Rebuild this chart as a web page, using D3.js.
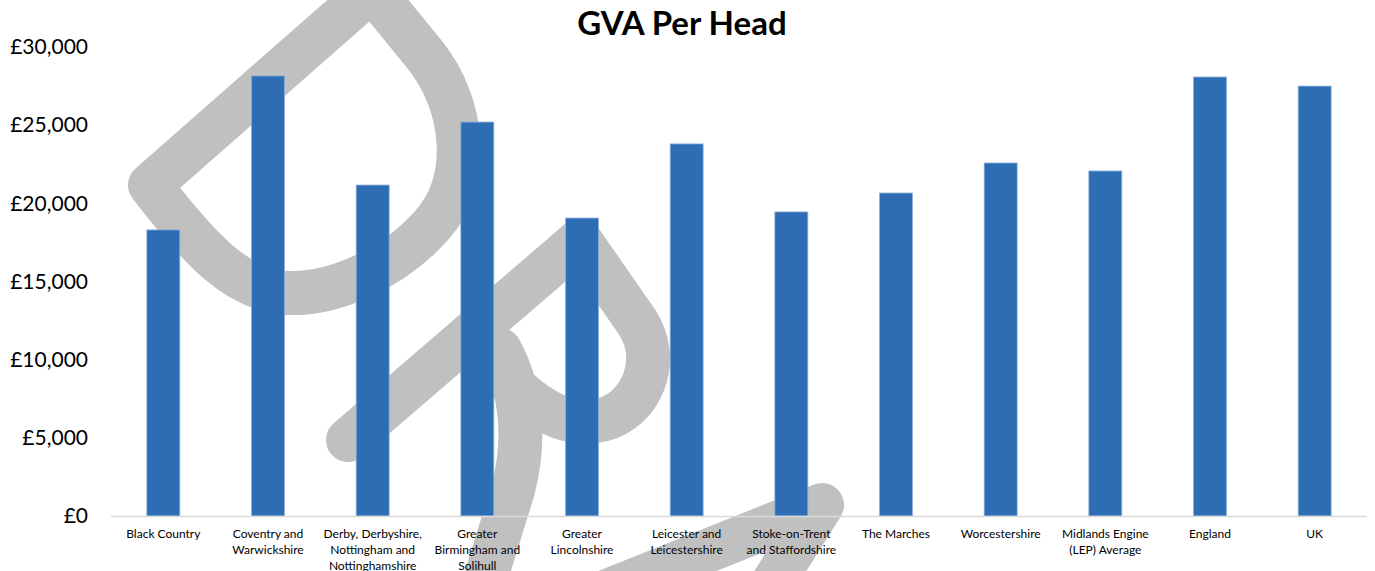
<!DOCTYPE html>
<html lang="en">
  <head>
    <meta charset="utf-8">
    <title>GVA Per Head</title>
    <script src="https://d3js.org/d3.v7.min.js"></script>
    <style>
      body { margin: 0; background: #fff; }
      text { font-family: Lato, "Open Sans", sans-serif; fill: #000; }
    </style>
  </head>
  <body>
    <script>
      var width = 1375,
      height = 571;

      // chart data
      var regions = ["Black Country", "Coventry and Warwickshire", "Derby, Derbyshire, Nottingham and Nottinghamshire",
        "Greater Birmingham and Solihull", "Greater Lincolnshire", "Leicester and Leicestershire",
        "Stoke-on-Trent and Staffordshire", "The Marches", "Worcestershire",
        "Midlands Engine (LEP) Average", "England", "UK"];
      var regionLines = [["Black Country"], ["Coventry and", "Warwickshire"], ["Derby, Derbyshire,", "Nottingham and", "Nottinghamshire"],
        ["Greater", "Birmingham and", "Solihull"], ["Greater", "Lincolnshire"], ["Leicester and", "Leicestershire"],
        ["Stoke-on-Trent", "and Staffordshire"], ["The Marches"], ["Worcestershire"],
        ["Midlands Engine", "(LEP) Average"], ["England"], ["UK"]];
      var gvaPerHead = [18300, 28150, 21170, 25200, 19060, 23800, 19450, 20660, 22580, 22070, 28080, 27500];
      var yTicks = [0, 5000, 10000, 15000, 20000, 25000, 30000];

      // background watermark strokes
      var watermark = [
        "M150,185 L372,-10 L425,55 C465,105 472,180 432,225 C392,270 332,295 287,293 C237,290 200,250 150,185 Z",
        "M348,440 L580,240 L637,322 C662,360 642,410 602,420 C567,428 535,410 500,372",
        "M500,350 C522,390 526,440 513,490 L482,590",
        "M585,600 L822,505 L762,600"
      ];

      var svg = d3.select("body").append("svg")
        .attr("width", width)
        .attr("height", height);

      svg.append("g")
        .attr("class", "watermark")
        .selectAll("path")
        .data(watermark)
        .enter().append("path")
        .attr("d", function(d) { return d; })
        .style("fill", "none")
        .style("stroke", "#c0c0c0")
        .style("stroke-width", 44)
        .style("stroke-linejoin", "round")
        .style("stroke-linecap", "round");

      var x = d3.scaleBand()
        .domain(regions)
        .range([111, 1367])
        .paddingInner(0.685)
        .paddingOuter(0.3425);

      var y = d3.scaleLinear()
        .domain([0, 30000])
        .range([516, 47]);

      svg.append("text")
        .attr("x", 682)
        .attr("y", 35)
        .attr("text-anchor", "middle")
        .style("font-size", "33px")
        .style("font-weight", "bold")
        .text("GVA Per Head");

      var yAxis = d3.axisLeft(y)
        .tickValues(yTicks)
        .tickSize(0)
        .tickPadding(0)
        .tickFormat(function(d) { return "£" + d3.format(",")(d); });

      svg.append("g")
        .attr("transform", "translate(88,0)")
        .call(yAxis)
        .call(function(g) { g.select(".domain").remove(); })
        .selectAll("text")
        .style("font-size", "21px")
        .style("font-family", "Lato, 'Open Sans', sans-serif");

      svg.append("g")
        .selectAll("rect")
        .data(gvaPerHead)
        .enter().append("rect")
        .attr("x", function(d, i) { return x(regions[i]); })
        .attr("y", function(d) { return y(d); })
        .attr("width", x.bandwidth())
        .attr("height", function(d) { return y(0) - y(d); })
        .style("fill", "#2c6db4")
        .style("stroke", "#8db0dc")
        .style("stroke-width", 0.8);

      svg.append("line")
        .attr("x1", 111)
        .attr("x2", 1367)
        .attr("y1", y(0) + 0.5)
        .attr("y2", y(0) + 0.5)
        .style("stroke", "#d9d9d9")
        .style("stroke-width", 1.5);

      var labels = svg.append("g")
        .selectAll("text")
        .data(regions)
        .enter().append("text")
        .attr("text-anchor", "middle")
        .attr("x", function(d) { return x(d) + x.bandwidth() / 2; })
        .attr("y", 538)
        .style("font-size", "12px");

      labels.selectAll("tspan")
        .data(function(d, i) { return regionLines[i]; })
        .enter().append("tspan")
        .attr("x", function() { var p = d3.select(this.parentNode); return p.attr("x"); })
        .attr("dy", function(d, i) { return i === 0 ? 0 : 16; })
        .text(function(d) { return d; });
    </script>
  </body>
</html>
